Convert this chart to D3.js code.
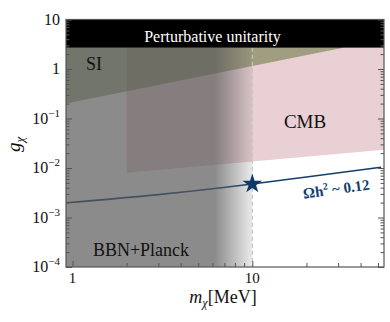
<!DOCTYPE html>
<html>
<head>
<meta charset="utf-8">
<script src="https://cdn.jsdelivr.net/npm/d3@7"></script>
<style>
  body { margin: 0; background: #fff; }
  text { font-family: "Liberation Serif", "DejaVu Serif", serif; }
</style>
</head>
<body>
<div id="chart"></div>
<script>
// values
var massDomain = [0.92, 54];
var gDomain = [1e-4, 10];
var massTicks = [1, 10];
var gTicks = [1e-4, 1e-3, 1e-2, 1e-1, 1, 10];
var gTickLabels = ["10|−4", "10|−3", "10|−2", "10|−1", "1", "10"];

var unitarityG = 2.7;
var siMass = [0.92, 32];
var siG = [0.2, 2.7];
var cmbMass = [2, 54];
var cmbLowerG = [0.0080, 0.0235];
var bbnFadeStart = 6.2;
var bbnEdge = 10;
var relicMass = [0.92, 3, 10, 20, 52];
var relicG = [0.00198, 0.0029, 0.00475, 0.0066, 0.0104];
var benchmark = [10, 0.00475];

var width = 390, height = 322;
var plotLeft = 66, plotRight = 384, plotTop = 19.5, plotBottom = 267;

var svg = d3.select("#chart").append("svg")
    .attr("width", width)
    .attr("height", height);

var x = d3.scaleLog().domain(massDomain).range([plotLeft, plotRight]);
var y = d3.scaleLog().domain(gDomain).range([plotBottom, plotTop]);

var defs = svg.append("defs");
defs.append("clipPath").attr("id", "plot")
  .append("rect")
    .attr("x", plotLeft).attr("y", plotTop)
    .attr("width", plotRight - plotLeft).attr("height", plotBottom - plotTop);

var grad = defs.append("linearGradient")
    .attr("id", "bbnFade")
    .attr("gradientUnits", "userSpaceOnUse")
    .attr("x1", x(bbnFadeStart)).attr("x2", x(bbnEdge))
    .attr("y1", 0).attr("y2", 0);
grad.append("stop").attr("offset", 0).attr("stop-color", "#5a5a5a").attr("stop-opacity", 0.7);
grad.append("stop").attr("offset", 1).attr("stop-color", "#5a5a5a").attr("stop-opacity", 0.12);

var plot = svg.append("g").attr("clip-path", "url(#plot)");

function polyPath(pts) {
  return "M" + pts.map(function(d) { return [x(d[0]), y(d[1])]; }).join("L") + "Z";
}

// CMB
plot.append("path")
    .attr("d", polyPath([
      [cmbMass[0], unitarityG], [cmbMass[1], unitarityG],
      [cmbMass[1], cmbLowerG[1]], [cmbMass[0], cmbLowerG[0]]
    ]))
    .attr("fill", "#e9d0d4");

// self interactions
plot.append("path")
    .attr("d", polyPath([
      [siMass[0], gDomain[1]], [siMass[1], gDomain[1]],
      [siMass[1], siG[1]], [siMass[0], siG[0]]
    ]))
    .attr("fill", "rgb(90,105,45)")
    .attr("fill-opacity", 0.5);

// relic line
var line = d3.line()
    .x(function(d, i) { return x(relicMass[i]); })
    .y(function(d) { return y(d); })
    .curve(d3.curveMonotoneX);
plot.append("path")
    .attr("d", line(relicG))
    .attr("fill", "none")
    .attr("stroke", "#123f6e")
    .attr("stroke-width", 1.6);

// BBN+Planck shade
plot.append("rect")
    .attr("x", x(massDomain[0])).attr("y", y(unitarityG))
    .attr("width", x(bbnFadeStart) - x(massDomain[0]))
    .attr("height", plotBottom - y(unitarityG))
    .attr("fill", "#5a5a5a").attr("fill-opacity", 0.7);
plot.append("rect")
    .attr("x", x(bbnFadeStart)).attr("y", y(unitarityG))
    .attr("width", x(bbnEdge) - x(bbnFadeStart))
    .attr("height", plotBottom - y(unitarityG))
    .attr("fill", "url(#bbnFade)");

plot.append("line")
    .attr("x1", x(bbnEdge)).attr("x2", x(bbnEdge))
    .attr("y1", y(unitarityG)).attr("y2", plotBottom)
    .attr("stroke", "#c4c4c4")
    .attr("stroke-width", 1.2)
    .attr("stroke-dasharray", "4,3");

// unitarity band
plot.append("rect")
    .attr("x", plotLeft).attr("y", plotTop)
    .attr("width", plotRight - plotLeft)
    .attr("height", y(unitarityG) - plotTop)
    .attr("fill", "#000");

// benchmark star
svg.append("path")
    .attr("d", d3.symbol().type(d3.symbolStar).size(120)())
    .attr("transform", "translate(" + x(benchmark[0]) + "," + y(benchmark[1]) + ")")
    .attr("fill", "#0f3a68");

// axes
var minorG = [];
for (var k = -4; k <= 0; k++) {
  for (var j = 2; j <= 9; j++) minorG.push(j * Math.pow(10, k));
}
var minorM = [2, 3, 4, 5, 6, 7, 8, 9, 20, 30, 40, 50];

function tickStyle(g) {
  g.select(".domain").remove();
  g.selectAll("line").attr("stroke", "#555");
}

svg.append("g").attr("transform", "translate(" + plotLeft + ",0)")
    .call(d3.axisLeft(y).tickValues(gTicks).tickSize(-6).tickFormat(""))
    .call(tickStyle);
svg.append("g").attr("transform", "translate(" + plotLeft + ",0)")
    .call(d3.axisLeft(y).tickValues(minorG).tickSize(-3.5).tickFormat(""))
    .call(tickStyle);
svg.append("g").attr("transform", "translate(" + plotRight + ",0)")
    .call(d3.axisRight(y).tickValues(gTicks).tickSize(-6).tickFormat(""))
    .call(tickStyle);
svg.append("g").attr("transform", "translate(" + plotRight + ",0)")
    .call(d3.axisRight(y).tickValues(minorG).tickSize(-3.5).tickFormat(""))
    .call(tickStyle);
svg.append("g").attr("transform", "translate(0," + plotBottom + ")")
    .call(d3.axisBottom(x).tickValues(massTicks).tickSize(-6).tickFormat(""))
    .call(tickStyle);
svg.append("g").attr("transform", "translate(0," + plotBottom + ")")
    .call(d3.axisBottom(x).tickValues(minorM).tickSize(-4).tickFormat(""))
    .call(tickStyle);

svg.append("rect")
    .attr("x", plotLeft).attr("y", plotTop)
    .attr("width", plotRight - plotLeft).attr("height", plotBottom - plotTop)
    .attr("fill", "none")
    .attr("stroke", "#555")
    .attr("stroke-width", 1.2);

// tick labels
gTicks.forEach(function(v, i) {
  var parts = gTickLabels[i].split("|");
  var t = svg.append("text")
      .attr("x", 60).attr("y", y(v) + 5)
      .attr("text-anchor", "end")
      .attr("font-size", 16)
      .attr("fill", "#111");
  if (parts.length > 1) {
    t.append("tspan").text(parts[0]);
    t.append("tspan").attr("dy", -7).attr("font-size", 11).text(parts[1]);
  } else {
    t.text(parts[0]);
  }
});
massTicks.forEach(function(v) {
  svg.append("text")
      .attr("x", x(v)).attr("y", 283)
      .attr("text-anchor", "middle")
      .attr("font-size", 15)
      .attr("fill", "#111")
      .text(v);
});

// axis titles
var yl = svg.append("text")
    .attr("transform", "translate(20,152) rotate(-90)")
    .attr("font-size", 19)
    .attr("fill", "#111");
yl.append("tspan").attr("font-style", "italic").text("g");
yl.append("tspan").attr("font-style", "italic").attr("font-size", 13).attr("dy", 4).text("χ");

var xl = svg.append("text")
    .attr("x", 223).attr("y", 303)
    .attr("text-anchor", "middle")
    .attr("font-size", 18)
    .attr("fill", "#111");
xl.append("tspan").attr("font-style", "italic").text("m");
xl.append("tspan").attr("font-style", "italic").attr("font-size", 12).attr("dy", 4).text("χ");
xl.append("tspan").attr("dy", -4).text("[MeV]");

// region labels
svg.append("text")
    .attr("x", x(6)).attr("y", 42)
    .attr("text-anchor", "middle")
    .attr("font-size", 16)
    .attr("fill", "#fff")
    .text("Perturbative unitarity");
svg.append("text")
    .attr("x", 86).attr("y", 70)
    .attr("font-size", 18)
    .attr("fill", "#111")
    .text("SI");
svg.append("text")
    .attr("x", 305).attr("y", 128)
    .attr("text-anchor", "middle")
    .attr("font-size", 19)
    .attr("fill", "#111")
    .text("CMB");
svg.append("text")
    .attr("x", 141).attr("y", 256)
    .attr("text-anchor", "middle")
    .attr("font-size", 18)
    .attr("fill", "#111")
    .text("BBN+Planck");

var rl = svg.append("text")
    .attr("transform", "translate(337,194) rotate(-8)")
    .attr("text-anchor", "middle")
    .attr("font-size", 15)
    .attr("font-weight", "bold")
    .attr("fill", "#123f6e");
rl.append("tspan").text("Ωh");
rl.append("tspan").attr("dy", -6).attr("font-size", 10).text("2");
rl.append("tspan").attr("dy", 6).text(" ~ 0.12");
</script>
</body>
</html>
